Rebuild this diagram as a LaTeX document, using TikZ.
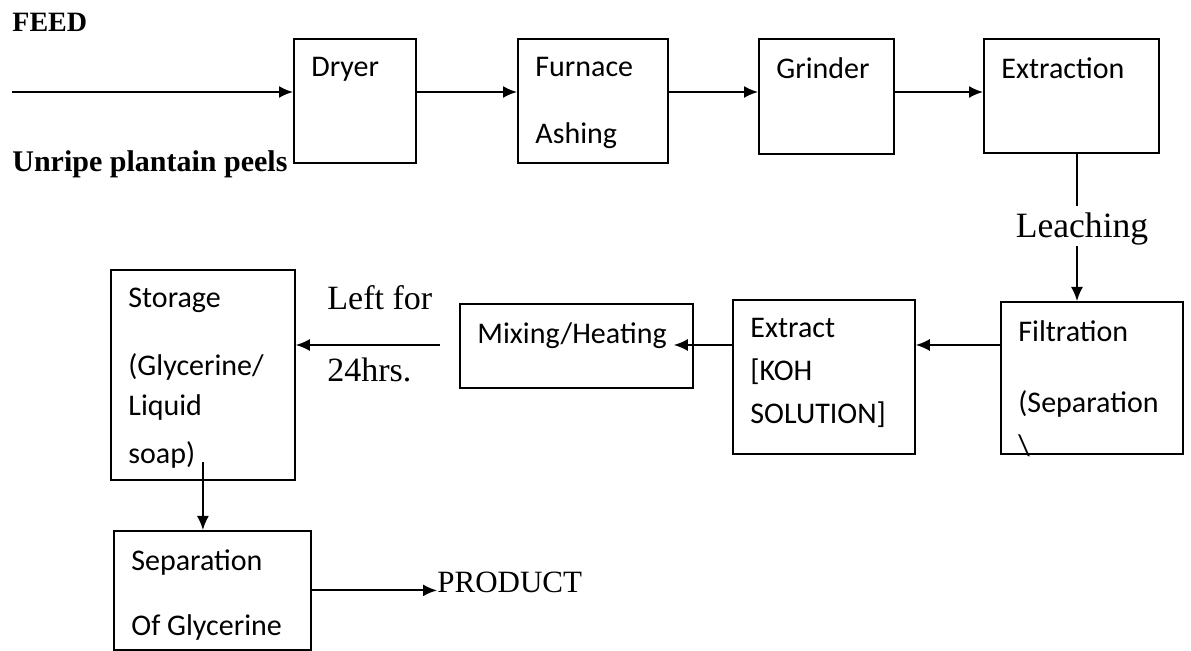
\documentclass[tikz,border=0pt]{standalone}
\usepackage{fontspec}
\setmainfont{Liberation Serif}
\newfontfamily\calfont{Carlito}
\usetikzlibrary{arrows.meta,positioning}
\tikzset{
  procbox/.style={draw=black,line width=0.9pt,inner sep=0pt,anchor=north west},
  boxtext/.style={anchor=north west,align=left,inner xsep=9pt,inner ysep=9.5pt,font=\calfont\fontsize{15}{18}\selectfont},
  lbl/.style={inner sep=0pt,font=\fontsize{17}{20}\selectfont},
  lblbold/.style={inner sep=0pt,font=\bfseries\fontsize{15}{18}\selectfont},
  link/.style={line width=0.9pt,draw=black},
  flow/.style={link,-{Latex[length=7pt,width=6pt]}}
}
\begin{document}
\begin{tikzpicture}[x=0.5pt,y=-0.5pt]
  \useasboundingbox (0,0) rectangle (1191,651);
  \coordinate (feedin) at (12,92);
  \coordinate (midrow) at (0,345);
  % top row
  \node[procbox,minimum width=61pt,minimum height=62pt,label={[boxtext]north west:Dryer}] (dryer) at (293,38) {};
  \node[procbox,minimum width=75pt,minimum height=62pt,label={[boxtext]north west:{Furnace\\[15.5pt]Ashing}}] (furnace) at (517,38) {};
  \node[procbox,minimum width=67.5pt,minimum height=57.5pt,label={[boxtext]north west:Grinder}] (grinder) at (758,38) {};
  \node[procbox,minimum width=87.5pt,minimum height=57pt,label={[boxtext]north west:Extraction}] (extraction) at (983,38) {};
  % middle row
  \node[procbox,minimum width=91pt,minimum height=76pt,label={[boxtext]north west:{Filtration\\[17.5pt](Separation\\[3.5pt]\textbackslash}}] (filtration) at (1000,301) {};
  \node[procbox,minimum width=91pt,minimum height=77pt,label={[boxtext]north west:{Extract\\[3.5pt][KOH\\[3.5pt]SOLUTION]}}] (extract) at (732,299) {};
  \node[procbox,minimum width=116.5pt,minimum height=42pt,label={[boxtext]north west:Mixing/Heating}] (mixheat) at (459,303) {};
  \node[procbox,minimum width=92pt,minimum height=105pt,label={[boxtext]north west:{Storage\\[16pt](Glycerine/\\[2pt]Liquid\\[6pt]soap)}}] (storage) at (110,269) {};
  \node[procbox,minimum width=98.5pt,minimum height=59.5pt,label={[boxtext]north west:{Separation\\[14.5pt]Of Glycerine}}] (separation) at (113,530) {};
  % free texts
  \node[lblbold,font=\bfseries\fontsize{14}{17}\selectfont,anchor=north west] (feed) at (12,13) {FEED};
  \node[lblbold,anchor=north west] (peels) at (12,150) {Unripe plantain peels};
  \node[lbl,font=\fontsize{17.8}{21}\selectfont,inner ysep=3.5pt,anchor=base] (leaching) at (1082,238) {Leaching};
  \node[lbl,anchor=base west] (leftfor) at (327,310) {Left for};
  \node[lbl,anchor=base west] (hrs) at (327,382) {24hrs.};
  \node[lbl,font=\fontsize{15.5}{18}\selectfont,anchor=base west] (product) at (437,593) {PRODUCT};
  % connectors
  \draw[flow] (feedin) -- (feedin -| dryer.west);
  \draw[flow] (dryer.east |- feedin) -- (furnace.west |- feedin);
  \draw[flow] (furnace.east |- feedin) -- (grinder.west |- feedin);
  \draw[flow] (grinder.east |- feedin) -- (extraction.west |- feedin);
  \draw[link] ([xshift=-2.5pt]extraction.south -| leaching) -- ([xshift=-2.5pt]leaching.north);
  \draw[flow,shorten <=-3.5pt] ([xshift=-2.5pt]leaching.south) -- ([xshift=-2.5pt]leaching.south |- filtration.north);
  \draw[flow] (filtration.west |- midrow) -- (extract.east |- midrow);
  \draw[flow,shorten >=-10pt] (extract.west |- midrow) -- (mixheat.east |- midrow);
  \draw[flow,shorten <=9.5pt] (mixheat.west |- midrow) -- (storage.east |- midrow);
  \draw[flow,shorten <=-9.5pt] (storage.south) -- (storage.south |- separation.north);
  \draw[flow] (separation.east) -- (separation.east -| product.west);
\end{tikzpicture}
\end{document}
